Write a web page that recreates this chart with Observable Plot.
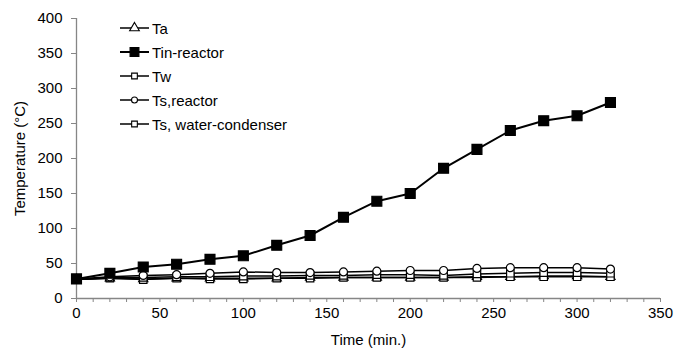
<!DOCTYPE html>
<html>
<head>
<meta charset="utf-8">
<script src="https://cdn.jsdelivr.net/npm/d3@7"></script>
<script src="https://cdn.jsdelivr.net/npm/@observablehq/plot@0.6"></script>
<style>
  body { margin: 0; background: #fff; }
  #wrap { position: relative; width: 675px; height: 354px; font-family: "Liberation Sans", Arial, sans-serif; }
  #legend { position: absolute; left: 119px; top: 16px; font-size: 15px; color: #000; }
  .row { display: flex; align-items: center; height: 24px; }
  .row svg { margin-right: 2px; }
</style>
</head>
<body>
<div id="wrap"></div>
<script>
const times = [0, 20, 40, 60, 80, 100, 120, 140, 160, 180, 200, 220, 240, 260, 280, 300, 320];
const seriesNames = ["Ta", "Tin-reactor", "Tw", "Ts,reactor", "Ts, water-condenser"];
const Ta        = [27, 29, 28, 29, 29, 29, 29, 30, 30, 30, 30, 30, 31, 31, 32, 32, 31];
const TinReactor= [28, 36, 45, 49, 56, 61, 76, 90, 116, 139, 150, 186, 213, 240, 254, 261, 280];
const Tw        = [27, 29, 27, 29, 28, 28, 29, 29, 30, 30, 30, 30, 30, 31, 31, 31, 31];
const TsReactor = [28, 31, 33, 34, 36, 38, 37, 37, 38, 39, 40, 40, 43, 44, 44, 44, 42];
const TsWater   = [27, 30, 30, 31, 31, 32, 32, 33, 33, 34, 34, 33, 35, 36, 37, 37, 36];
const xTicks = [0, 10, 20, 30, 40, 50, 60, 70, 80, 90, 100, 110, 120, 130, 140, 150, 160, 170, 180, 190, 200, 210, 220, 230, 240, 250, 260, 270, 280, 290, 300, 310, 320, 330, 340, 350];
const xLabels = [0, 50, 100, 150, 200, 250, 300, 350];
const yTicks = [0, 50, 100, 150, 200, 250, 300, 350, 400];

const seriesValues = [Ta, TinReactor, Tw, TsReactor, TsWater];
const styles = {
  "Ta": {symbol: "triangle", fill: "white", r: 3.4, lr: 3.6, sw: 1.5},
  "Tin-reactor": {symbol: "square", fill: "black", r: 5.6, lr: 5, sw: 2},
  "Tw": {symbol: "square", fill: "white", r: 4.2, lr: 3.2, sw: 1.5},
  "Ts,reactor": {symbol: "circle", fill: "white", r: 4, lr: 3, sw: 1.5},
  "Ts, water-condenser": {symbol: "square", fill: "white", r: 4.2, lr: 3.2, sw: 1.5}
};
const data = seriesNames.map((name, i) => times.map((t, j) => ({series: name, t, v: seriesValues[i][j]})));

const axisColor = "#868686";
const marks = [
  Plot.ruleY([0], {stroke: axisColor, strokeWidth: 1.3}),
  Plot.ruleX([0], {stroke: axisColor, strokeWidth: 1.3}),
  Plot.axisX({ticks: xTicks, tickFormat: d => xLabels.includes(d) ? String(d) : "", tickSize: 4, tickPadding: 5, stroke: axisColor, label: "Time (min.)", labelAnchor: "center", labelArrow: "none", labelOffset: 46, fill: "#000"}),
  Plot.axisY({ticks: yTicks, tickSize: 5, tickPadding: 9, stroke: axisColor, label: "Temperature (°C)", labelAnchor: "center", labelArrow: "none", labelOffset: 62, fill: "#000"})
];
// draw order: Ta, Tw, Ts water, Ts reactor, Tin on top
const order = [0, 2, 4, 3, 1];
for (const i of order) {
  const s = styles[seriesNames[i]];
  marks.push(Plot.line(data[i], {x: "t", y: "v", stroke: "black", strokeWidth: s.sw}));
}
for (const i of order) {
  const s = styles[seriesNames[i]];
  marks.push(Plot.dot(data[i], {x: "t", y: "v", symbol: () => s.symbol, r: s.r, fill: s.fill, stroke: "black", strokeWidth: 1.2}));
}

const chart = Plot.plot({
  width: 675, height: 354,
  marginLeft: 76, marginRight: 15, marginTop: 18, marginBottom: 56,
  x: {domain: [0, 350]},
  y: {domain: [0, 400]},
  symbol: {type: "identity"},
  style: {fontSize: "15px", fontFamily: "'Liberation Sans', Arial, sans-serif", color: "#000", background: "white"},
  marks
});
const wrap = document.getElementById("wrap");
wrap.appendChild(chart);

// legend
const legend = d3.select(wrap).append("div").attr("id", "legend");
const symGen = {triangle: d3.symbolTriangle, square: d3.symbolSquare, circle: d3.symbolCircle};
seriesNames.forEach(name => {
  const s = styles[name];
  const row = legend.append("div").attr("class", "row");
  const svg = row.append("svg").attr("width", 31).attr("height", 16);
  svg.append("line").attr("x1", 1).attr("x2", 30).attr("y1", 8).attr("y2", 8).attr("stroke", "black").attr("stroke-width", s.sw);
  svg.append("path").attr("transform", "translate(15.5,8)")
    .attr("d", d3.symbol(symGen[s.symbol], s.lr * s.lr * Math.PI)())
    .attr("fill", s.fill).attr("stroke", "black").attr("stroke-width", 1.1);
  row.append("span").text(name);
});
</script>
</body>
</html>
